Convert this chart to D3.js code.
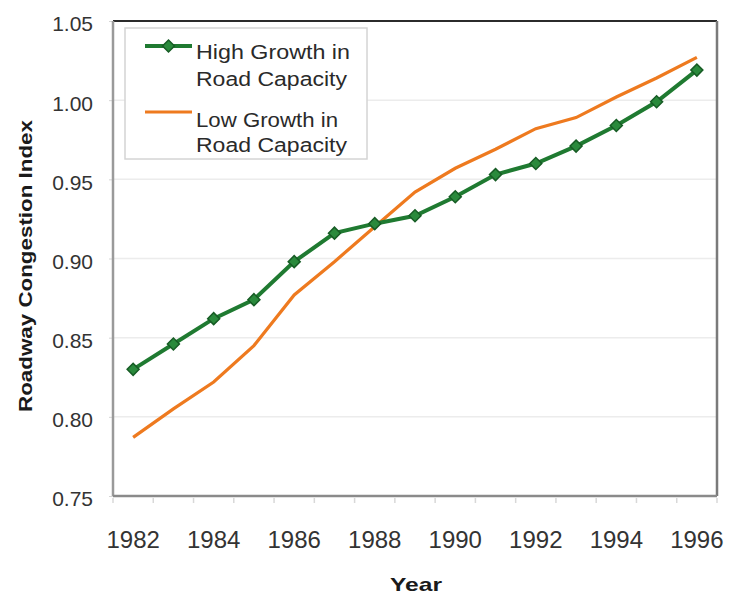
<!DOCTYPE html>
<html>
<head>
<meta charset="utf-8">
<script src="https://cdn.jsdelivr.net/npm/d3@7"></script>
<style>
  body { margin: 0; background: #fff; }
  text { font-family: "Liberation Sans", Arial, sans-serif; fill: #262626; }
</style>
</head>
<body>
<div id="chart"></div>
<script>
// data
const years = [1982, 1983, 1984, 1985, 1986, 1987, 1988, 1989, 1990, 1991, 1992, 1993, 1994, 1995, 1996];
const highGrowth = [0.830, 0.846, 0.862, 0.874, 0.898, 0.916, 0.922, 0.927, 0.939, 0.953, 0.960, 0.971, 0.984, 0.999, 1.019];
const lowGrowth  = [0.787, 0.805, 0.822, 0.845, 0.877, 0.898, 0.920, 0.942, 0.957, 0.969, 0.982, 0.989, 1.002, 1.014, 1.027];
const yTicks = [0.75, 0.80, 0.85, 0.90, 0.95, 1.00, 1.05];
const xLabelYears = [1982, 1984, 1986, 1988, 1990, 1992, 1994, 1996];
const seriesNames = [["High Growth in", "Road Capacity"], ["Low Growth in", "Road Capacity"]];

const width = 742, height = 595;
const margin = {top: 21, right: 25, bottom: 99, left: 113};
const w = width - margin.left - margin.right;
const h = height - margin.top - margin.bottom;

const green = "#1f7a31", greenDark = "#175c25", orange = "#ee7a1f";

const svg = d3.select("#chart").append("svg")
    .attr("width", width)
    .attr("height", height);

const g = svg.append("g").attr("transform", `translate(${margin.left},${margin.top})`);

const x = d3.scaleBand().domain(years).range([0, w]);
const y = d3.scaleLinear().domain([0.75, 1.05]).range([h, 0]);
const cx = d => x(d) + x.bandwidth() / 2;

// gridlines
g.append("g")
  .selectAll("line")
  .data(yTicks.slice(1, -1))
  .enter().append("line")
    .attr("x1", 0).attr("x2", w)
    .attr("y1", d => y(d)).attr("y2", d => y(d))
    .style("stroke", "#ececec")
    .style("stroke-width", 1.5);

// y axis
const yAxis = g.append("g")
    .call(d3.axisLeft(y).tickValues(yTicks).tickFormat(d3.format(".2f")).tickSize(4).tickPadding(16));
yAxis.select(".domain").remove();
yAxis.selectAll(".tick line").style("stroke", "#d5d5d5");
yAxis.selectAll("text")
    .attr("dy", "0.47em")
    .style("font-size", "21px")
    .style("fill", "#333");

// x axis: labels on band centres every other year
const xAxis = g.append("g")
    .attr("transform", `translate(0,${h})`)
    .call(d3.axisBottom(x).tickValues(xLabelYears).tickSize(0).tickPadding(35));
xAxis.select(".domain").remove();
xAxis.selectAll("text")
    .style("font-size", "24px")
    .style("fill", "#333");

// little tick marks on band edges
g.append("g")
  .selectAll("line")
  .data(years.map(d => x(d)).concat([w]))
  .enter().append("line")
    .attr("x1", d => d).attr("x2", d => d)
    .attr("y1", h + 2).attr("y2", h + 7)
    .style("stroke", "#d8d8d8")
    .style("stroke-width", 1.5);

// frame
g.append("line").attr("x1", 0).attr("x2", w).attr("y1", 0).attr("y2", 0)
  .style("stroke", "#2b2b2b").style("stroke-width", 2);
g.append("line").attr("x1", w).attr("x2", w).attr("y1", 0).attr("y2", h)
  .style("stroke", "#7a7a7a").style("stroke-width", 2.5);
g.append("line").attr("x1", 0).attr("x2", 0).attr("y1", 0).attr("y2", h)
  .style("stroke", "#9a9a9a").style("stroke-width", 2.5);
g.append("line").attr("x1", 0).attr("x2", w).attr("y1", h).attr("y2", h)
  .style("stroke", "#8a8a8a").style("stroke-width", 2.5);

const line = d3.line()
    .x((d, i) => cx(years[i]))
    .y(d => y(d));

// low growth (orange)
g.append("path")
  .datum(lowGrowth)
  .attr("d", line)
  .style("fill", "none")
  .style("stroke", orange)
  .style("stroke-width", 3.2);

// high growth (green) with diamonds
g.append("path")
  .datum(highGrowth)
  .attr("d", line)
  .style("fill", "none")
  .style("stroke", green)
  .style("stroke-width", 4);

// square turned 45 degrees -> even diamond like the excel marker
const diamond = d3.symbol().type(d3.symbolSquare).size(72);
g.append("g")
  .selectAll("path")
  .data(highGrowth)
  .enter().append("path")
    .attr("d", diamond)
    .attr("transform", (d, i) => `translate(${cx(years[i])},${y(d)}) rotate(45)`)
    .style("fill", "#2a8a3c")
    .style("stroke", greenDark)
    .style("stroke-width", 1.5);

// legend
const legend = g.append("g").attr("transform", "translate(12,7)");
legend.append("rect")
    .attr("width", 242).attr("height", 131)
    .style("fill", "#fff")
    .style("stroke", "#d4d4d4")
    .style("stroke-width", 1.5);

// green item
legend.append("line").attr("x1", 20).attr("x2", 67).attr("y1", 18).attr("y2", 18)
    .style("stroke", green).style("stroke-width", 4);
legend.append("path").attr("d", diamond).attr("transform", "translate(43.5,18) rotate(45)")
    .style("fill", "#2a8a3c").style("stroke", greenDark).style("stroke-width", 1.5);
// orange item
legend.append("line").attr("x1", 20).attr("x2", 67).attr("y1", 84).attr("y2", 84)
    .style("stroke", orange).style("stroke-width", 3.2);

const legendLines = [
  {t: seriesNames[0][0], y: 31, len: 154},
  {t: seriesNames[0][1], y: 58, len: 151},
  {t: seriesNames[1][0], y: 99, len: 142},
  {t: seriesNames[1][1], y: 124, len: 151}
];
legend.selectAll(".lt")
  .data(legendLines)
  .enter().append("text")
    .attr("class", "lt")
    .attr("x", 71)
    .attr("y", d => d.y)
    .attr("textLength", d => d.len)
    .attr("lengthAdjust", "spacingAndGlyphs")
    .style("font-size", "20px")
    .style("fill", "#2a2a2a")
    .text(d => d.t);

// axis titles
svg.append("text")
    .attr("transform", "translate(32,266) rotate(-90)")
    .attr("text-anchor", "middle")
    .attr("textLength", 292)
    .attr("lengthAdjust", "spacingAndGlyphs")
    .style("font-size", "19px")
    .style("font-weight", "bold")
    .style("fill", "#1a1a1a")
    .text("Roadway Congestion Index");

svg.append("text")
    .attr("x", 416)
    .attr("y", 591)
    .attr("text-anchor", "middle")
    .attr("textLength", 52)
    .attr("lengthAdjust", "spacingAndGlyphs")
    .style("font-size", "19px")
    .style("font-weight", "bold")
    .style("fill", "#1a1a1a")
    .text("Year");
</script>
</body>
</html>
